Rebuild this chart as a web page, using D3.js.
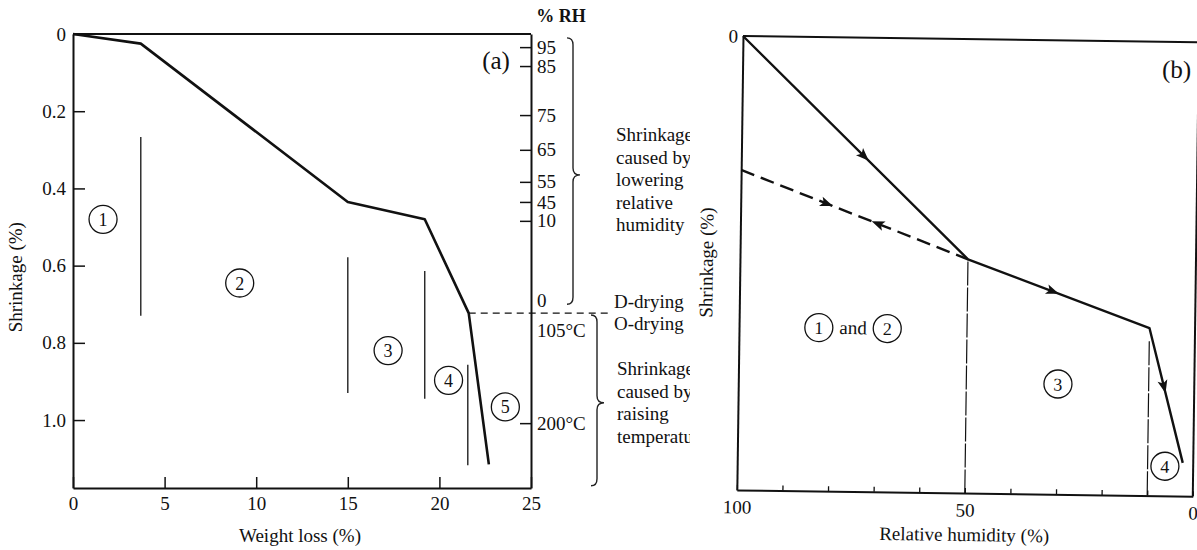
<!DOCTYPE html>
<html>
<head>
<meta charset="utf-8">
<script src="https://cdn.jsdelivr.net/npm/d3@7"></script>
<style>
  body { margin: 0; background: #fff; }
  svg { display: block; }
  text { font-family: "Liberation Serif", "Times New Roman", "DejaVu Serif", serif; fill: #111; }
  .axis path, .axis line { stroke: #111; }
  .axis text { font-size: 19px; font-family: "Liberation Serif", "Times New Roman", serif; fill: #111; }
</style>
</head>
<body>
<div id="chart"></div>
<script>
// ---- panel (a) data ----
const weightLoss = [0, 3.7, 15, 19.2, 21.6, 22.7];
const shrinkageA = [0, 0.025, 0.435, 0.48, 0.723, 1.115];
const xTicksA = [0, 5, 10, 15, 20, 25];
const yTicksA = [0, 0.2, 0.4, 0.6, 0.8, 1.0];
// right hand scale: label, shrinkage position, has tick
const rhLabels = ["95", "85", "75", "65", "55", "45", "10", "0"];
const rhPos = [0.034, 0.083, 0.21, 0.30, 0.383, 0.435, 0.484, 0.69];
const rhTick = [true, true, true, true, true, true, true, false];
const tempLabels = ["105°C", "200°C"];
const tempPos = [0.767, 1.008];
const tempTick = [false, true];
const dividersA = [
  { x: 3.7, y0: 0.267, y1: 0.73 },
  { x: 15, y0: 0.578, y1: 0.93 },
  { x: 19.2, y0: 0.614, y1: 0.945 },
  { x: 21.55, y0: 0.857, y1: 1.117 }
];
const regionsA = [
  { n: "1", x: 1.64, y: 0.48 },
  { n: "2", x: 9.1, y: 0.645 },
  { n: "3", x: 17.2, y: 0.82 },
  { n: "4", x: 20.5, y: 0.897 },
  { n: "5", x: 23.6, y: 0.966 }
];

// ---- panel (b) data ----
const rhDrying = [100, 50, 10, 2.3];
const shrinkDrying = [0, 0.485, 0.631, 0.927];
const rhRewet = [100, 50];
const shrinkRewet = [0.295, 0.485];
const rhTicksB = [100, 90, 80, 70, 60, 50, 40, 30, 20, 10, 0];
const rhLabelsB = [100, 50, 0];
const dividersB = [
  { rh: 50, y0: 0.49, y1: 1 },
  { rh: 10, y0: 0.66, y1: 1 }
];
const regionsB = [
  { n: "3", rh: 29.9, y: 0.757 },
  { n: "4", rh: 6.2, y: 0.935 }
];

const W = 1197, H = 550;
const svg = d3.select("#chart").append("svg")
  .attr("width", W).attr("height", H);

// ================= panel (a) =================
svg.append("clipPath").attr("id", "clipA")
  .append("rect").attr("x", 0).attr("y", 0).attr("width", 690).attr("height", H);

const gA = svg.append("g").attr("clip-path", "url(#clipA)");

const xA = d3.scaleLinear().domain([0, 25]).range([73, 531]);
const yA = d3.scaleLinear().domain([0, 1.176]).range([34, 488]);

gA.append("g").attr("class", "axis")
  .attr("transform", `translate(0,${yA(1.176)})`)
  .call(d3.axisBottom(xA).tickValues(xTicksA).tickFormat(d3.format("d"))
    .tickSizeInner(-11).tickSizeOuter(0).tickPadding(9))
  .call(g => g.select(".domain").attr("stroke-width", 2))
  .call(g => g.selectAll(".tick line").attr("stroke-width", 1.5));

gA.append("g").attr("class", "axis")
  .attr("transform", `translate(${xA(0)},0)`)
  .call(d3.axisLeft(yA).tickValues(yTicksA).tickFormat(d => d === 0 ? "0" : d3.format(".1f")(d))
    .tickSizeInner(-12).tickSizeOuter(0).tickPadding(7))
  .call(g => g.select(".domain").attr("stroke-width", 2))
  .call(g => g.selectAll(".tick line").attr("stroke-width", 1.5));

// right axis: RH and temperature
const rightVals = rhPos.concat(tempPos);
const rightLabels = rhLabels.concat(tempLabels);
const rightTick = rhTick.concat(tempTick);
gA.append("g").attr("class", "axis")
  .attr("transform", `translate(${xA(25)},0)`)
  .call(d3.axisRight(yA).tickValues(rightVals).tickFormat((d, i) => rightLabels[i])
    .tickSizeInner(-11).tickSizeOuter(0).tickPadding(6))
  .call(g => g.select(".domain").attr("stroke-width", 2))
  .call(g => g.selectAll(".tick line").attr("stroke-width", 1.5)
    .attr("x2", (d, i) => rightTick[i] ? -11 : 0));

// top frame line
gA.append("line")
  .attr("x1", xA(0)).attr("x2", xA(25)).attr("y1", yA(0)).attr("y2", yA(0))
  .attr("stroke", "#111").attr("stroke-width", 2);

// dividers
gA.selectAll(".divA").data(dividersA).enter().append("line")
  .attr("class", "divA")
  .attr("x1", d => xA(d.x)).attr("x2", d => xA(d.x))
  .attr("y1", d => yA(d.y0)).attr("y2", d => yA(d.y1))
  .attr("stroke", "#222").attr("stroke-width", 1.4);

// main curve
const lineA = d3.line().x(d => xA(d[0])).y(d => yA(d[1]));
gA.append("path")
  .datum(d3.zip(weightLoss, shrinkageA))
  .attr("d", lineA)
  .attr("fill", "none").attr("stroke", "#111").attr("stroke-width", 2.6)
  .attr("stroke-linejoin", "round");

// D-drying dashed line
const kneeIdx = 4;
gA.append("line")
  .attr("x1", xA(weightLoss[kneeIdx])).attr("x2", xA(25) + 80)
  .attr("y1", yA(shrinkageA[kneeIdx])).attr("y2", yA(shrinkageA[kneeIdx]))
  .attr("stroke", "#111").attr("stroke-width", 1.3).attr("stroke-dasharray", "7,5");

// circled region numbers
function circled(g, cx, cy, label) {
  g.append("circle").attr("cx", cx).attr("cy", cy).attr("r", 14)
    .attr("fill", "none").attr("stroke", "#111").attr("stroke-width", 1.3);
  g.append("text").attr("x", cx).attr("y", cy + 6.5)
    .attr("text-anchor", "middle").attr("font-size", 18).text(label);
}
regionsA.forEach(r => circled(gA, xA(r.x), yA(r.y), r.n));

// labels
gA.append("text").attr("x", 561).attr("y", 22).attr("text-anchor", "middle")
  .attr("font-size", 18).attr("font-weight", "bold").text("% RH");
gA.append("text").attr("x", 496).attr("y", 69).attr("text-anchor", "middle")
  .attr("font-size", 25).text("(a)");
gA.append("text").attr("transform", `translate(22,${yA(0.63)}) rotate(-90)`)
  .attr("text-anchor", "middle").attr("font-size", 19).text("Shrinkage (%)");
gA.append("text").attr("x", 300).attr("y", 542).attr("text-anchor", "middle")
  .attr("font-size", 19).text("Weight loss (%)");

// braces
function bracePath(x, y0, y1, ym, w) {
  return `M${x - 6},${y0} Q${x},${y0} ${x},${y0 + 7} L${x},${ym - 7} Q${x},${ym} ${x + w},${ym}` +
    ` Q${x},${ym} ${x},${ym + 7} L${x},${y1 - 7} Q${x},${y1} ${x - 6},${y1}`;
}
gA.append("path").attr("d", bracePath(573, yA(0.01), yA(0.7), yA(0.365), 7))
  .attr("fill", "none").attr("stroke", "#222").attr("stroke-width", 1.4);
gA.append("path").attr("d", bracePath(597, yA(0.728), yA(1.17), yA(0.955), 7))
  .attr("fill", "none").attr("stroke", "#222").attr("stroke-width", 1.4);

function textBlock(g, x, y, lines, dy) {
  lines.forEach((t, i) => g.append("text").attr("x", x).attr("y", y + i * dy)
    .attr("font-size", 19).text(t));
}
textBlock(gA, 616, 141, ["Shrinkage", "caused by", "lowering", "relative", "humidity"], 22.5);
textBlock(gA, 614, 308, ["D-drying", "O-drying"], 22);
textBlock(gA, 617, 375, ["Shrinkage", "caused by", "raising", "temperature"], 22.5);

// ================= panel (b) =================
const bW = 456, bH = 454;
const gB = svg.append("g").attr("transform", "translate(743,36) rotate(0.78)");
const xB = d3.scaleLinear().domain([100, 0]).range([0, bW]);
const yB = d3.scaleLinear().domain([0, 1]).range([0, bH]);

gB.append("g").attr("class", "axis")
  .attr("transform", `translate(0,${bH})`)
  .call(d3.axisBottom(xB).tickValues(rhTicksB)
    .tickFormat(d => rhLabelsB.includes(d) ? d : "")
    .tickSizeInner(-5).tickSizeOuter(0).tickPadding(10))
  .call(g => g.select(".domain").attr("stroke-width", 2))
  .call(g => g.selectAll(".tick line").attr("stroke-width", 1.3));

gB.append("g").attr("class", "axis")
  .call(d3.axisLeft(yB).tickValues([0]).tickFormat(d3.format("d"))
    .tickSizeInner(0).tickSizeOuter(0).tickPadding(5))
  .call(g => g.select(".domain").attr("stroke-width", 2));

gB.append("line").attr("x1", 0).attr("x2", bW).attr("y1", 0).attr("y2", 0)
  .attr("stroke", "#111").attr("stroke-width", 2);
gB.append("line").attr("x1", bW).attr("x2", bW).attr("y1", 0).attr("y2", bH)
  .attr("stroke", "#111").attr("stroke-width", 2);

gB.selectAll(".divB").data(dividersB).enter().append("line")
  .attr("class", "divB")
  .attr("x1", d => xB(d.rh)).attr("x2", d => xB(d.rh))
  .attr("y1", d => yB(d.y0)).attr("y2", d => yB(d.y1))
  .attr("stroke", "#111").attr("stroke-width", 1.2).attr("stroke-dasharray", "24,2");

const lineB = d3.line().x(d => xB(d[0])).y(d => yB(d[1]));
gB.append("path").datum(d3.zip(rhDrying, shrinkDrying)).attr("d", lineB)
  .attr("fill", "none").attr("stroke", "#111").attr("stroke-width", 2.4)
  .attr("stroke-linejoin", "round");
gB.append("path").datum(d3.zip(rhRewet, shrinkRewet)).attr("d", lineB)
  .attr("fill", "none").attr("stroke", "#111").attr("stroke-width", 2.4)
  .attr("stroke-dasharray", "14,7");

// arrowheads along segments
function arrowAt(p0, p1, t, reverse) {
  const x0 = xB(p0[0]), y0 = yB(p0[1]), x1 = xB(p1[0]), y1 = yB(p1[1]);
  const x = x0 + (x1 - x0) * t, y = y0 + (y1 - y0) * t;
  let a = Math.atan2(y1 - y0, x1 - x0) * 180 / Math.PI;
  if (reverse) a += 180;
  gB.append("path").attr("d", "M6,0 L-7,-5 L-4,0 L-7,5 Z")
    .attr("transform", `translate(${x},${y}) rotate(${a})`)
    .attr("fill", "#111");
}
const dry = d3.zip(rhDrying, shrinkDrying);
const rew = d3.zip(rhRewet, shrinkRewet);
arrowAt(dry[0], dry[1], 0.54, false);
arrowAt(dry[1], dry[2], 0.47, false);
arrowAt(dry[2], dry[3], 0.44, false);
arrowAt(rew[0], rew[1], 0.38, false);
arrowAt(rew[0], rew[1], 0.6, true);

// region labels
const g12 = gB.append("g");
circled(g12, xB(82.5), yB(0.64), "1");
g12.append("text").attr("x", xB(75)).attr("y", yB(0.64) + 6).attr("text-anchor", "middle")
  .attr("font-size", 19).text("and");
circled(g12, xB(67.5), yB(0.64), "2");
regionsB.forEach(r => circled(gB, xB(r.rh), yB(r.y), r.n));

gB.append("text").attr("x", bW - 22).attr("y", 36).attr("text-anchor", "middle")
  .attr("font-size", 25).text("(b)");
gB.append("text").attr("transform", `translate(-27,${yB(0.5)}) rotate(-90)`)
  .attr("text-anchor", "middle").attr("font-size", 19).text("Shrinkage (%)");
gB.append("text").attr("x", xB(50)).attr("y", bH + 48).attr("text-anchor", "middle")
  .attr("font-size", 19).text("Relative humidity (%)");
</script>
</body>
</html>
